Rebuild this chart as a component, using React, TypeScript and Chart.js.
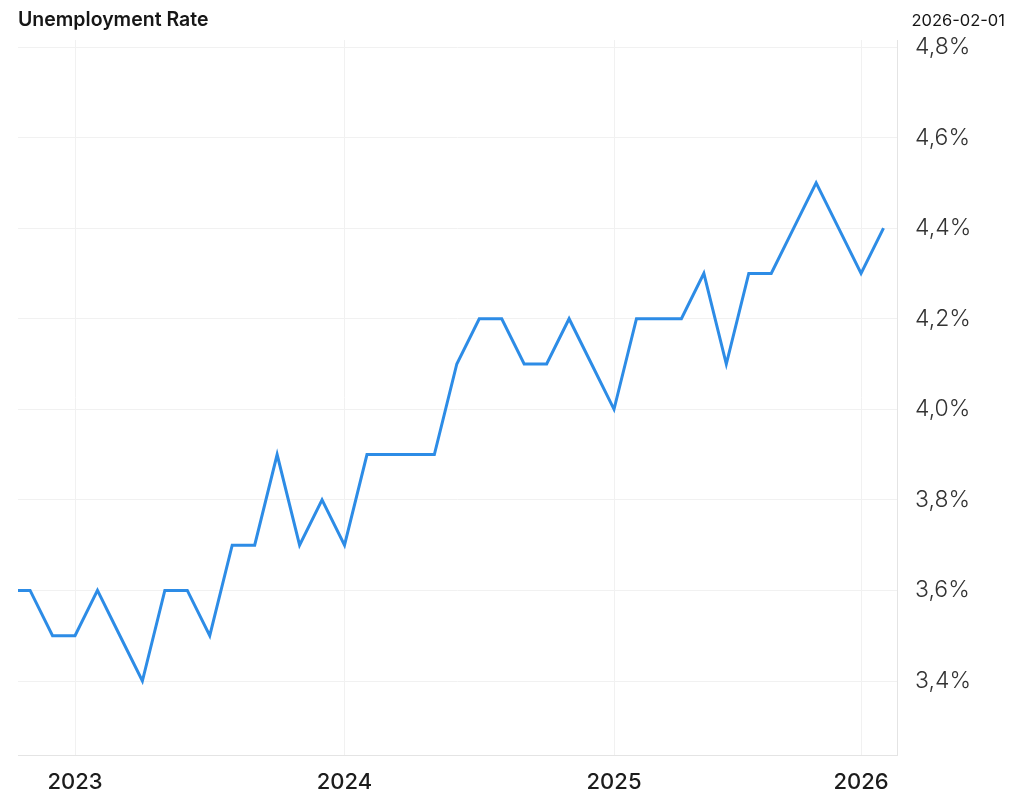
import React, { useEffect, useRef } from "react";
import { Chart, registerables } from "chart.js";

Chart.register(...registerables);

const months: string[] = [
  "2022-10", "2022-11", "2022-12",
  "2023-01", "2023-02", "2023-03", "2023-04", "2023-05", "2023-06",
  "2023-07", "2023-08", "2023-09", "2023-10", "2023-11", "2023-12",
  "2024-01", "2024-02", "2024-03", "2024-04", "2024-05", "2024-06",
  "2024-07", "2024-08", "2024-09", "2024-10", "2024-11", "2024-12",
  "2025-01", "2025-02", "2025-03", "2025-04", "2025-05", "2025-06",
  "2025-07", "2025-08", "2025-09", "2025-11", "2025-12",
  "2026-01", "2026-02",
];

const rates: number[] = [
  3.6, 3.6, 3.5,
  3.5, 3.6, 3.5, 3.4, 3.6, 3.6,
  3.5, 3.7, 3.7, 3.9, 3.7, 3.8,
  3.7, 3.9, 3.9, 3.9, 3.9, 4.1,
  4.2, 4.2, 4.1, 4.1, 4.2, 4.1,
  4.0, 4.2, 4.2, 4.2, 4.3, 4.1,
  4.3, 4.3, 4.4, 4.5, 4.4,
  4.3, 4.4,
];

const yTicks: number[] = [3.4, 3.6, 3.8, 4.0, 4.2, 4.4, 4.6, 4.8];

const titleText = "Unemployment Rate";
const dateText = "2026-02-01";

const FONT = "Inter, 'DejaVu Sans', sans-serif";

export default function App() {
  const canvasRef = useRef<HTMLCanvasElement | null>(null);

  useEffect(() => {
    const canvas = canvasRef.current;
    if (!canvas) return;
    const points = rates.map((v, i) => ({ x: i, y: v }));
    const chart = new Chart(canvas, {
      type: "line",
      data: {
        datasets: [
          {
            data: points,
            borderColor: "#2d8ce6",
            borderWidth: 3,
            pointRadius: 0,
            tension: 0,
            fill: false,
            clip: 0,
          },
        ],
      },
      options: {
        animation: false,
        responsive: false,
        events: [],
        layout: { padding: { left: 18, top: 40, right: 0, bottom: 0 } },
        plugins: {
          legend: { display: false },
          tooltip: { enabled: false },
          title: { display: false },
        },
        scales: {
          x: {
            type: "linear",
            min: 0.4618,
            max: 39.6,
            afterFit: (axis: any) => {
              axis.height = 55;
            },
            afterBuildTicks: (axis: any) => {
              axis.ticks = months
                .map((m, i) => ({ m, i }))
                .filter((o) => o.m.endsWith("-01"))
                .map((o) => ({ value: o.i }));
            },
            grid: {
              color: (ctx: any) => {
                const v = ctx.tick ? Number(ctx.tick.value) : NaN;
                const m = months[Math.round(v)];
                return m && m.endsWith("-01") ? "#f1f1f1" : "rgba(0,0,0,0)";
              },
              lineWidth: 1,
              drawTicks: false,
            },
            border: { display: true, color: "#e4e4e4", width: 1 },
            ticks: {
              padding: 14,
              maxRotation: 0,
              autoSkip: false,
              color: "#1c1c1c",
              font: { family: FONT, size: 22, weight: "500" },
              callback: (value: any) => {
                const m = months[Math.round(Number(value))];
                return m ? m.slice(0, 4) : "";
              },
            },
          },
          y: {
            type: "linear",
            position: "right",
            min: 3.2366,
            max: 4.8155,
            afterFit: (axis: any) => {
              axis.width = 127;
            },
            afterBuildTicks: (axis: any) => {
              axis.ticks = yTicks.map((v) => ({ value: v }));
            },
            grid: {
              color: "#f1f1f1",
              lineWidth: 1,
              drawTicks: false,
            },
            border: { display: true, color: "#e4e4e4", width: 1 },
            ticks: {
              padding: 18,
              color: "#333333",
              font: { family: FONT, size: 23, weight: "300" },
              callback: (value: any) =>
                Number(value).toFixed(1).replace(".", ",") + "%",
            },
          },
        },
      },
    });
    return () => chart.destroy();
  }, []);

  return (
    <div
      style={{
        position: "absolute",
        left: 0,
        top: 0,
        width: 1024,
        height: 810,
        background: "#ffffff",
        overflow: "hidden",
      }}
    >
      <canvas
        ref={canvasRef}
        width={1024}
        height={810}
        style={{ position: "absolute", left: 0, top: 0, width: 1024, height: 810 }}
      />
      <div
        style={{
          position: "absolute",
          left: 18,
          top: 5,
          fontFamily: FONT,
          fontSize: 19.5,
          fontWeight: 600,
          color: "#161616",
          lineHeight: "28px",
        }}
      >
        {titleText}
      </div>
      <div
        style={{
          position: "absolute",
          right: 19,
          top: 8,
          fontFamily: FONT,
          fontSize: 16.5,
          fontWeight: 400,
          color: "#161616",
          lineHeight: "24px",
        }}
      >
        {dateText}
      </div>
    </div>
  );
}
